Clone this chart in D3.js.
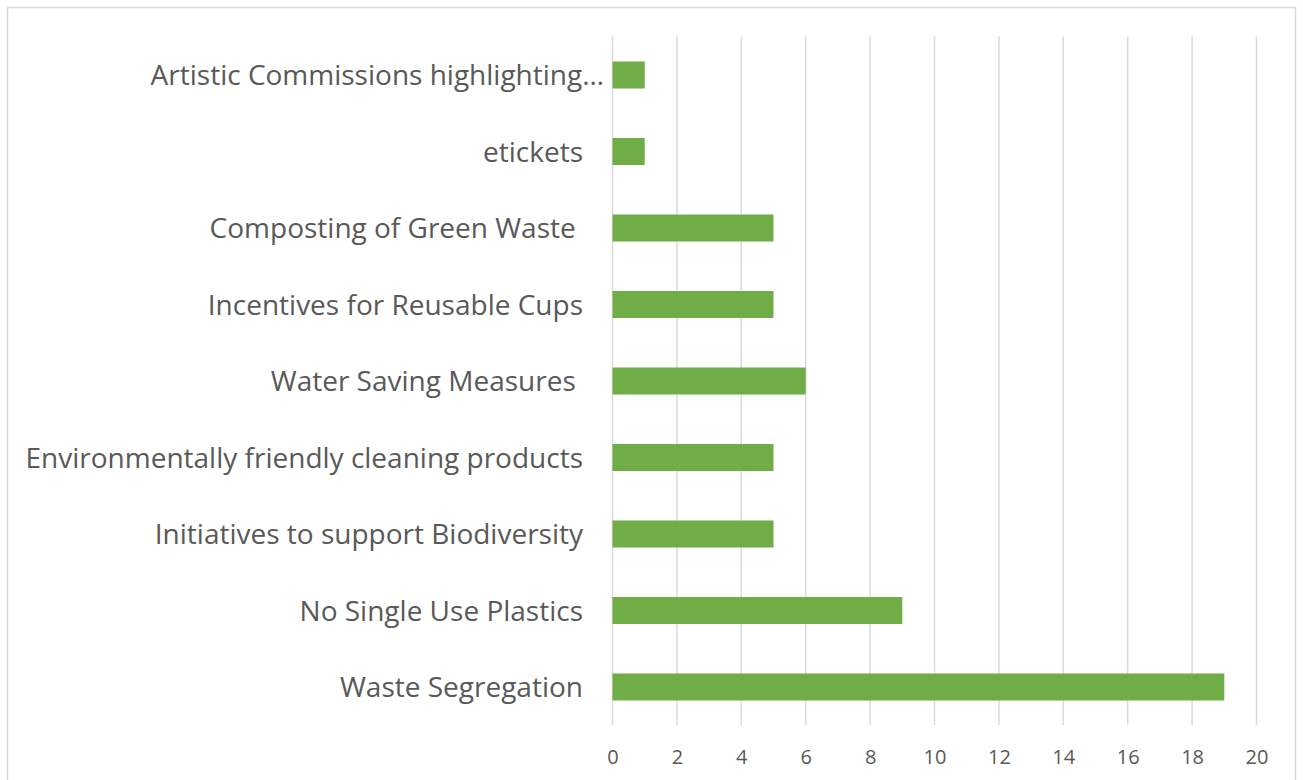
<!DOCTYPE html>
<html><head><meta charset="utf-8">
<script src="https://cdn.jsdelivr.net/npm/d3@7"></script>
<style>body{margin:0;background:#fff}svg{display:block}</style>
</head><body><svg id="c" width="1303" height="780"></svg>
<script>
const categories = ["Artistic Commissions highlighting…","etickets","Composting of Green Waste ","Incentives for Reusable Cups","Water Saving Measures ","Environmentally friendly cleaning products","Initiatives to support Biodiversity","No Single Use Plastics","Waste Segregation"];
const values = [1,1,5,5,6,5,5,9,19];
const xTicks = [0,2,4,6,8,10,12,14,16,18,20];

const svg = d3.select("#c");
svg.append("rect").attr("x",7.5).attr("y",7.5).attr("width",1288).attr("height",800)
  .attr("fill","#fff").attr("stroke","#d9d9d9").attr("stroke-width",1.5);

const x = d3.scaleLinear().domain([0,20]).range([612.5,1256.5]);
const y = d3.scaleBand().domain(categories).range([36.75,725.25]).paddingInner(0.647).paddingOuter(0.3235);

svg.append("g").selectAll("line").data(xTicks).join("line")
  .attr("x1",d=>x(d)).attr("x2",d=>x(d)).attr("y1",36.5).attr("y2",725)
  .attr("stroke","#d9d9d9").attr("stroke-width",1.5);

svg.append("g").selectAll("rect").data(values).join("rect")
  .attr("x",x(0)).attr("y",(d,i)=>y(categories[i]))
  .attr("width",d=>x(d)-x(0)).attr("height",y.bandwidth())
  .attr("fill","#70ad47");

const xa = d3.axisBottom(x).tickValues(xTicks).tickSize(0).tickPadding(0);
const gx = svg.append("g").attr("transform","translate(0,764)").call(xa);
gx.select(".domain").remove();
gx.selectAll("text").attr("font-family","'Open Sans', sans-serif").attr("font-size",20)
  .attr("fill","#595959").attr("dy",0).attr("y",0);

const ya = d3.axisLeft(y).tickSize(0).tickPadding(0);
const gy = svg.append("g").attr("transform","translate(583,0)").call(ya);
gy.select(".domain").remove();
gy.selectAll("text").attr("font-family","'Open Sans', sans-serif").attr("font-size",28)
  .attr("fill","#595959").style("white-space","pre")
  .attr("dy","0.36em")
  .attr("x",d=>d.endsWith("…")?21:0);
</script></body></html>
